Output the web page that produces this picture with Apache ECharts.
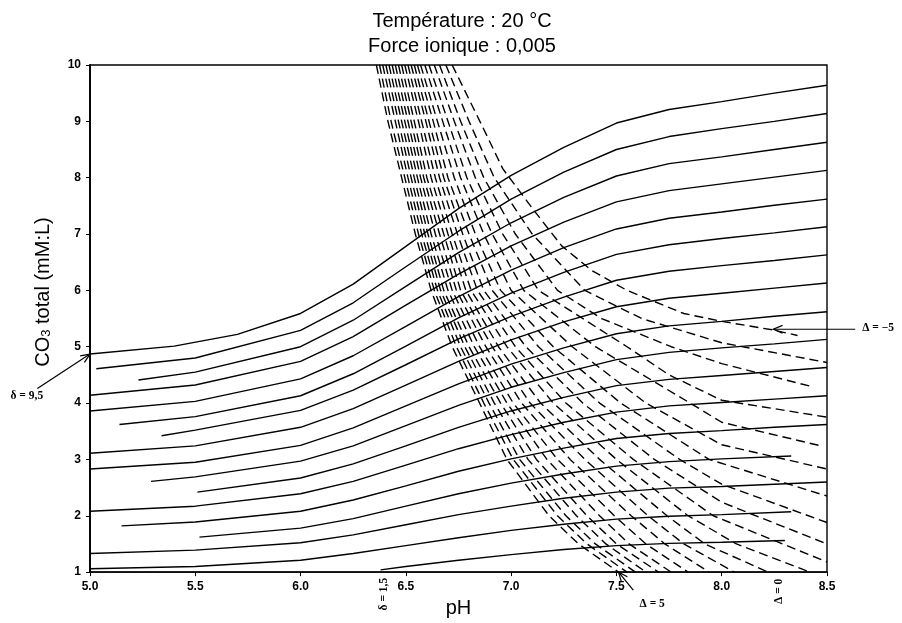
<!DOCTYPE html>
<html>
<head>
<meta charset="utf-8">
<script src="https://cdn.jsdelivr.net/npm/echarts/dist/echarts.min.js"></script>
<style>
  html, body { margin: 0; padding: 0; background: #fff; }
  #chart { width: 902px; height: 623px; }
</style>
</head>
<body>
<div id="chart"></div>
<script>
// solid lines (δ), points [pH, CO3 total]
const solid_9_5 = [[5.0,4.87],[5.4,5.01],[5.7,5.22],[6.0,5.59],[6.25,6.11],[6.5,6.78],[6.75,7.45],[7.0,8.04],[7.25,8.54],[7.5,8.97],[7.75,9.21],[8.0,9.35],[8.25,9.50],[8.5,9.64]];
const solid_9 = [[5.03,4.61],[5.5,4.80],[6.0,5.29],[6.25,5.78],[6.5,6.42],[6.75,7.05],[7.0,7.62],[7.25,8.10],[7.5,8.50],[7.75,8.73],[8.0,8.87],[8.25,9.00],[8.5,9.14]];
const solid_8_5 = [[5.23,4.41],[5.5,4.55],[6.0,5.00],[6.25,5.47],[6.5,6.07],[6.75,6.67],[7.0,7.20],[7.25,7.65],[7.5,8.03],[7.75,8.25],[8.0,8.37],[8.25,8.50],[8.5,8.63]];
const solid_8 = [[5.0,4.14],[5.5,4.32],[6.0,4.74],[6.25,5.18],[6.5,5.74],[6.75,6.29],[7.0,6.79],[7.25,7.21],[7.5,7.57],[7.75,7.77],[8.0,7.89],[8.25,8.01],[8.5,8.13]];
const solid_7_5 = [[5.0,3.86],[5.5,4.03],[6.0,4.43],[6.25,4.84],[6.5,5.36],[6.75,5.89],[7.0,6.36],[7.25,6.76],[7.5,7.09],[7.75,7.28],[8.0,7.39],[8.25,7.51],[8.5,7.62]];
const solid_7 = [[5.14,3.62],[5.5,3.76],[6.0,4.13],[6.25,4.52],[6.5,5.01],[6.75,5.51],[7.0,5.95],[7.25,6.32],[7.5,6.64],[7.75,6.81],[8.0,6.92],[8.25,7.02],[8.5,7.13]];
const solid_6_5 = [[5.34,3.42],[5.5,3.52],[6.0,3.87],[6.25,4.23],[6.5,4.68],[6.75,5.14],[7.0,5.54],[7.25,5.88],[7.5,6.18],[7.75,6.34],[8.0,6.44],[8.25,6.53],[8.5,6.63]];
const solid_6 = [[5.0,3.11],[5.5,3.24],[6.0,3.57],[6.25,3.90],[6.5,4.32],[6.75,4.74],[7.0,5.12],[7.25,5.44],[7.5,5.71],[7.75,5.86],[8.0,5.95],[8.25,6.04],[8.5,6.13]];
const solid_5_5 = [[5.0,2.83],[5.5,2.95],[6.0,3.25],[6.25,3.56],[6.5,3.95],[6.75,4.34],[7.0,4.69],[7.25,4.98],[7.5,5.23],[7.75,5.37],[8.0,5.45],[8.25,5.54],[8.5,5.62]];
const solid_5 = [[5.29,2.61],[5.5,2.69],[6.0,2.97],[6.25,3.24],[6.5,3.60],[6.75,3.96],[7.0,4.28],[7.25,4.54],[7.5,4.77],[7.75,4.90],[8.0,4.98],[8.25,5.05],[8.5,5.13]];
const solid_4_5 = [[5.51,2.42],[6.0,2.67],[6.25,2.92],[6.5,3.24],[6.75,3.57],[7.0,3.86],[7.25,4.10],[7.5,4.31],[7.75,4.42],[8.0,4.49],[8.25,4.56],[8.5,4.63]];
const solid_4 = [[5.0,2.08],[5.5,2.17],[6.0,2.39],[6.25,2.61],[6.5,2.90],[6.75,3.19],[7.0,3.44],[7.25,3.66],[7.5,3.84],[7.75,3.95],[8.0,4.01],[8.25,4.07],[8.5,4.13]];
const solid_3_5 = [[5.15,1.82],[5.5,1.89],[6.0,2.08],[6.25,2.28],[6.5,2.53],[6.75,2.79],[7.0,3.01],[7.25,3.20],[7.5,3.37],[7.75,3.46],[8.0,3.51],[8.25,3.57],[8.5,3.62]];
const solid_3 = [[5.52,1.62],[6.0,1.78],[6.25,1.95],[6.5,2.17],[6.75,2.39],[7.0,2.58],[7.25,2.74],[7.5,2.88],[7.75,2.96],[8.0,3.01],[8.33,3.06]];
const solid_2_5 = [[5.0,1.33],[5.5,1.39],[6.0,1.52],[6.25,1.66],[6.5,1.84],[6.75,2.02],[7.0,2.17],[7.25,2.31],[7.5,2.42],[7.75,2.49],[8.0,2.52],[8.25,2.56],[8.5,2.60]];
const solid_2 = [[5.0,1.06],[5.5,1.10],[6.0,1.21],[6.25,1.33],[6.5,1.47],[6.75,1.61],[7.0,1.74],[7.25,1.85],[7.5,1.94],[7.75,1.99],[8.0,2.02],[8.33,2.07]];
const solid_1_5 = [[6.38,1.04],[6.5,1.10],[6.75,1.21],[7.0,1.31],[7.25,1.40],[7.5,1.47],[7.75,1.51],[8.0,1.53],[8.3,1.56]];

// dashed lines (Δ)
const dash_p5 = [[6.36,10],[6.415,9],[6.48,8],[6.545,7],[6.62,6],[6.72,5],[6.85,4],[6.98,3],[7.18,2],[7.32,1.5],[7.51,1]];
const dash_p4_5 = [[6.375,10],[6.43,9],[6.495,8],[6.56,7],[6.635,6],[6.74,5],[6.87,4],[7.01,3],[7.22,2],[7.36,1.5],[7.55,1]];
const dash_p4 = [[6.39,10],[6.45,9],[6.51,8],[6.575,7],[6.65,6],[6.76,5],[6.895,4],[7.04,3],[7.26,2],[7.40,1.5],[7.59,1]];
const dash_p3_5 = [[6.405,10],[6.465,9],[6.525,8],[6.59,7],[6.665,6],[6.78,5],[6.92,4],[7.08,3],[7.31,2],[7.45,1.5],[7.64,1]];
const dash_p3 = [[6.42,10],[6.48,9],[6.54,8],[6.605,7],[6.68,6],[6.80,5],[6.95,4],[7.12,3],[7.36,2],[7.50,1.5],[7.70,1]];
const dash_p2_5 = [[6.435,10],[6.495,9],[6.555,8],[6.62,7],[6.70,6],[6.825,5],[6.98,4],[7.17,3],[7.42,2],[7.56,1.5],[7.76,1]];
const dash_p2 = [[6.45,10],[6.51,9],[6.57,8],[6.64,7],[6.72,6],[6.85,5],[7.01,4],[7.22,3],[7.49,2],[7.64,1.5],[7.84,1]];
const dash_p1_5 = [[6.465,10],[6.525,9],[6.585,8],[6.66,7],[6.74,6],[6.88,5],[7.05,4],[7.28,3],[7.57,2],[7.73,1.5],[7.94,1]];
const dash_p1 = [[6.48,10],[6.54,9],[6.60,8],[6.68,7],[6.76,6],[6.91,5],[7.09,4],[7.35,3],[7.65,2],[7.82,1.5],[8.06,1]];
const dash_p0_5 = [[6.495,10],[6.56,9],[6.62,8],[6.70,7],[6.785,6],[6.94,5],[7.14,4],[7.42,3],[7.74,2],[7.92,1.5],[8.22,1]];
const dash_0 = [[6.51,10],[6.575,9],[6.64,8],[6.72,7],[6.81,6],[6.98,5],[7.20,4],[7.50,3],[7.84,2],[8.07,1.5],[8.42,1]];
const dash_m0_5 = [[6.525,10],[6.595,9],[6.66,8],[6.745,7],[6.84,6],[7.02,5],[7.26,4],[7.58,3],[7.96,2],[8.5,1.18]];
const dash_m1 = [[6.54,10],[6.61,9],[6.68,8],[6.77,7],[6.87,6],[7.07,5],[7.34,4],[7.68,3],[8.0,2.24],[8.5,1.5]];
const dash_m1_5 = [[6.555,10],[6.63,9],[6.70,8],[6.80,7],[6.91,6],[7.13,5],[7.42,4],[7.80,3],[8.0,2.56],[8.5,1.88]];
const dash_m2 = [[6.57,10],[6.65,9],[6.73,8],[6.83,7],[6.95,6],[7.20,5],[7.52,4],[7.94,3],[8.5,2.35]];
const dash_m2_5 = [[6.59,10],[6.675,9],[6.76,8],[6.87,7],[7.00,6],[7.29,5],[7.64,4],[8.0,3.26],[8.5,2.83]];
const dash_m3 = [[6.61,10],[6.70,9],[6.79,8],[6.91,7],[7.06,6],[7.40,5],[7.85,4],[8.0,3.66],[8.46,3.25]];
const dash_m3_5 = [[6.635,10],[6.73,9],[6.83,8],[6.96,7],[7.13,6],[7.55,5],[7.75,4.5],[8.0,4.05],[8.5,3.75]];
const dash_m4 = [[6.66,10],[6.76,9],[6.87,8],[7.02,7],[7.22,6],[7.43,5.5],[7.76,5],[8.0,4.7],[8.42,4.3]];
const dash_m4_5 = [[6.69,10],[6.80,9],[6.92,8],[7.10,7],[7.35,6],[7.62,5.5],[8.0,5.07],[8.5,4.72]];
const dash_m5 = [[6.72,10],[6.87,8.86],[6.96,8.16],[7.11,7.41],[7.24,6.79],[7.38,6.36],[7.55,6.0],[7.82,5.59],[8.0,5.45],[8.24,5.30],[8.36,5.20]];

const solidNames = ['9,5','9','8,5','8','7,5','7','6,5','6','5,5','5','4,5','4','3,5','3','2,5','2','1,5'];
const solidData = [solid_9_5, solid_9, solid_8_5, solid_8, solid_7_5, solid_7, solid_6_5, solid_6, solid_5_5, solid_5, solid_4_5, solid_4, solid_3_5, solid_3, solid_2_5, solid_2, solid_1_5];
const dashNames = ['5','4,5','4','3,5','3','2,5','2','1,5','1','0,5','0','-0,5','-1','-1,5','-2','-2,5','-3','-3,5','-4','-4,5','-5'];
const dashData = [dash_p5, dash_p4_5, dash_p4, dash_p3_5, dash_p3, dash_p2_5, dash_p2, dash_p1_5, dash_p1, dash_p0_5, dash_0, dash_m0_5, dash_m1, dash_m1_5, dash_m2, dash_m2_5, dash_m3, dash_m3_5, dash_m4, dash_m4_5, dash_m5];

// annotation anchors (data coords)
const arrowDelta95 = [[4.75, 4.26], [5.0, 4.87]];
const arrowDeltaCap5 = [[7.58, 0.68], [7.51, 1.0]];
const arrowDeltaCapM5 = [[8.634, 5.31], [8.245, 5.31]];

const chart = echarts.init(document.getElementById('chart'));

const series = [];
dashData.forEach((d, i) => {
  series.push({
    name: 'Δ = ' + dashNames[i],
    type: 'line',
    data: d,
    symbol: 'none',
    silent: true,
    lineStyle: { color: '#000', width: 1.4, type: [9, 5] }
  });
});
solidData.forEach((d, i) => {
  series.push({
    name: 'δ = ' + solidNames[i],
    type: 'line',
    data: d,
    symbol: 'none',
    silent: true,
    lineStyle: { color: '#000', width: 1.4 }
  });
});

chart.setOption({
  animation: false,
  backgroundColor: '#fff',
  title: {
    text: 'Température : 20 °C\nForce ionique : 0,005',
    left: 457,
    top: 4,
    textAlign: 'center',
    textStyle: { fontSize: 20, fontWeight: 'normal', fontFamily: 'Liberation Sans', color: '#000', lineHeight: 25 }
  },
  grid: { left: 90, right: 75, top: 65, bottom: 45, show: true, borderColor: '#000', borderWidth: 1.4 },
  xAxis: {
    type: 'value',
    min: 5, max: 8.5, interval: 0.5,
    name: 'pH',
    nameLocation: 'middle',
    nameGap: 23,
    nameTextStyle: { fontSize: 20, fontFamily: 'Liberation Sans', color: '#000' },
    axisLine: { lineStyle: { color: '#000', width: 1.5 } },
    axisTick: { length: 4, lineStyle: { color: '#000' } },
    axisLabel: { margin: 9, fontSize: 12, fontWeight: 'bold', fontFamily: 'Liberation Sans', color: '#000', formatter: v => v.toFixed(1) },
    splitLine: { show: false }
  },
  yAxis: {
    type: 'value',
    min: 1, max: 10, interval: 1,
    axisLine: { show: true, lineStyle: { color: '#000', width: 1.8 } },
    axisTick: { show: true, length: 4, lineStyle: { color: '#000' } },
    axisLabel: { margin: 9, fontSize: 12, fontWeight: 'bold', fontFamily: 'Liberation Sans', color: '#000' },
    splitLine: { show: false }
  },
  series: series
});

const px = p => chart.convertToPixel({ gridIndex: 0 }, p);

function arrow(seg) {
  const a = px(seg[0]), b = px(seg[1]);
  const ang = Math.atan2(b[1] - a[1], b[0] - a[0]);
  const h = 10, w = 0.4;
  const p1 = [b[0] - h * Math.cos(ang - w), b[1] - h * Math.sin(ang - w)];
  const p2 = [b[0] - h * Math.cos(ang + w), b[1] - h * Math.sin(ang + w)];
  return [
    { type: 'line', silent: true, shape: { x1: a[0], y1: a[1], x2: b[0], y2: b[1] }, style: { stroke: '#000', lineWidth: 1.2 } },
    { type: 'polyline', silent: true, shape: { points: [p1, b, p2] }, style: { stroke: '#000', lineWidth: 1.2, fill: null } }
  ];
}

function note(text, at, rot) {
  const p = px(at);
  return {
    type: 'text', silent: true, x: p[0], y: p[1], rotation: rot || 0,
    style: { text: text, align: 'center', verticalAlign: 'middle', fontSize: 11.5, fontWeight: 'bold', fontFamily: 'Liberation Serif', fill: '#000' }
  };
}

chart.setOption({
  graphic: [
    {
      type: 'text', silent: true, x: 40, y: 292, rotation: Math.PI / 2,
      style: {
        text: '{a|CO}{s|3}{a| total (mM:L)}',
        align: 'center', verticalAlign: 'middle',
        rich: {
          a: { fontSize: 20, fontFamily: 'Liberation Sans', fill: '#000', lineHeight: 26, verticalAlign: 'bottom' },
          s: { fontSize: 13, fontFamily: 'Liberation Sans', fill: '#000', lineHeight: 26, verticalAlign: 'bottom', padding: [11, 0, 0, 0] }
        }
      }
    },
    ...arrow(arrowDelta95),
    ...arrow(arrowDeltaCap5),
    ...arrow(arrowDeltaCapM5),
    note('δ = 9,5', [4.70, 4.12]),
    note('δ = 1,5', [6.397, 0.61], Math.PI / 2),
    note('Δ = 5', [7.67, 0.44]),
    note('Δ = 0', [8.27, 0.66], Math.PI / 2),
    note('Δ = −5', [8.743, 5.34])
  ]
});
</script>
</body>
</html>
